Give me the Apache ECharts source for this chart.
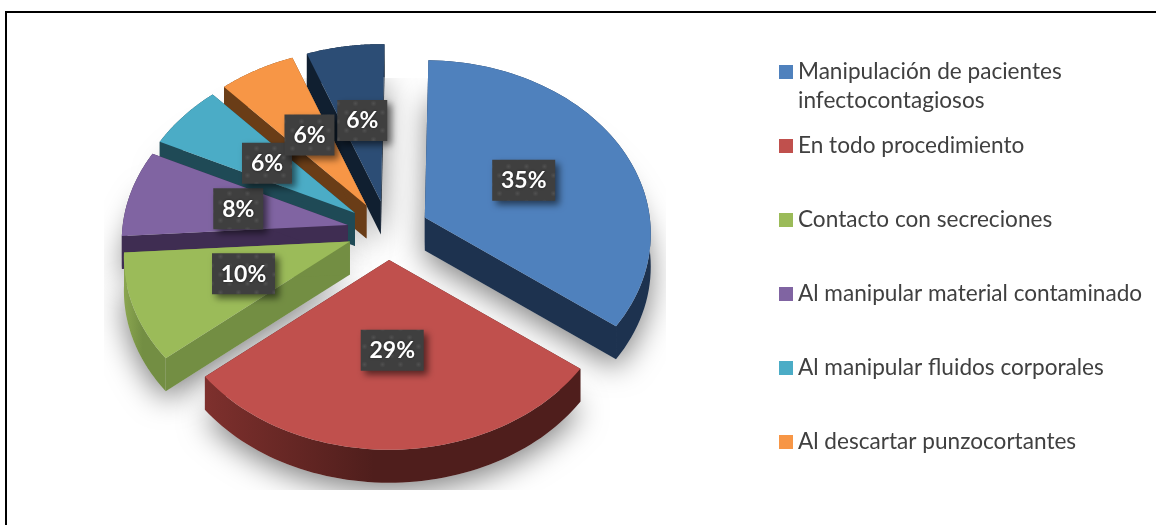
<!DOCTYPE html>
<html>
<head>
<meta charset="utf-8">
<style>html,body{margin:0;padding:0;background:#fff}#c{width:1156px;height:525px}</style>
<script src="https://cdn.jsdelivr.net/npm/echarts@6/dist/echarts.min.js"></script>
</head>
<body>
<div id="c"></div>
<script>
const categories = ['Manipulación de pacientes\ninfectocontagiosos','En todo procedimiento','Contacto con secreciones','Al manipular material contaminado','Al manipular fluidos corporales','Al descartar punzocortantes','Otros'];
const values = [34.9,28.8,10.0,8.1,6.1,6.0,6.1];
const topColors = ['#4F81BD','#C0504D','#9BBB59','#8064A2','#4BACC6','#F79646','#2C4D75'];
const sideColors = ['#1D324F','#4F1E1C','#738E43','#3F2D52','#1F4A56','#6A3D17','#101F30'];
const arcLightColors = ['#1D324F','#7E302D','#8BA650','#3F2D52','#1F4A56','#6A3D17','#101F30'];
const paintOrder = [6,5,4,3,2,0,1];

const geo = {cx:388, cy:230.5, rx:225, ry:172, ex:41, ey:29.5, persp:0.0936, depth:33, start:1, labelAt:0.5, steps:64};
const total = values.reduce((a,b)=>a+b,0);
const starts = []; values.reduce((acc,v,i)=>{starts[i]=acc; return acc+v;},0);
const deg = v => v/total*360;
const rad = d => d*Math.PI/180;

function project(i,theta,r,drop){
  const mid = rad(geo.start+deg(starts[i])+deg(values[i])/2);
  const t = rad(theta), u = Math.sin(t)*r, v = -Math.cos(t)*r, s = 1/(1-v*geo.persp);
  return [geo.cx+geo.ex*Math.sin(mid)+geo.rx*u*s, geo.cy-geo.ey*Math.cos(mid)+geo.ry*v*s+drop];
}
function arc(i,drop,rev){
  const a0 = geo.start+deg(starts[i]), a1 = a0+deg(values[i]), pts=[];
  for(let k=0;k<=geo.steps;k++){pts.push(project(i,a0+(a1-a0)*k/geo.steps,1,drop));}
  return rev?pts.reverse():pts;
}
function poly(points,fill,extra){
  return Object.assign({type:'polygon',shape:{points},style:{fill}},extra||{});
}
function sliceItem(i){
  return function(){
    const a0 = geo.start+deg(starts[i]), a1 = a0+deg(values[i]), d=geo.depth;
    const tipT=project(i,0,0,0), tipB=project(i,0,0,d);
    const aT=project(i,a0,1,0), aB=project(i,a0,1,d), bT=project(i,a1,1,0), bB=project(i,a1,1,d);
    const arcFill={type:'linear',x:0,y:0,x2:1,y2:0,colorStops:[{offset:0,color:arcLightColors[i]},{offset:0.45,color:sideColors[i]},{offset:1,color:sideColors[i]}]};
    return {type:'group',children:[
      poly([tipT,tipB,aB,aT],sideColors[i]),
      poly([tipT,tipB,bB,bT],sideColors[i]),
      poly(arc(i,0,false).concat(arc(i,d,true)),arcFill),
      poly([tipT].concat(arc(i,0,false)),topColors[i])
    ]};
  };
}
function shadowItem(params){
  const i=params.dataIndex;
  return {type:'group',
    clipPath:{type:'rect',shape:{x:104,y:78,width:562,height:412}},
    children:[poly([project(i,0,0,geo.depth)].concat(arc(i,geo.depth,false)),'#cfcfcf',
      {style:{fill:'#cfcfcf',shadowBlur:30,shadowColor:'rgba(0,0,0,0.5)',shadowOffsetY:8}})]};
}
const patternCanvas = document.createElement('canvas');
patternCanvas.width=patternCanvas.height=18;
(function(){
  const g=patternCanvas.getContext('2d');
  g.fillStyle='#3F3F3F';g.fillRect(0,0,18,18);
  [[4.5,4.5],[13.5,13.5]].forEach(p=>{
    const r=g.createRadialGradient(p[0],p[1],0,p[0],p[1],3.2);
    r.addColorStop(0,'#505050');r.addColorStop(1,'#3F3F3F');
    g.fillStyle=r;g.beginPath();g.arc(p[0],p[1],3.2,0,7);g.fill();
  });
})();
function labelItem(params){
  const i=params.dataIndex, val=values[i];
  const a=geo.start+deg(starts[i])+deg(val)/2, c=project(i,a,geo.labelAt,0);
  const pct=Math.round(val), txt=pct+'%', w=pct>=10?63:50, h=41;
  return {type:'group',children:[
    {type:'rect',shape:{x:c[0]-w/2,y:c[1]-h/2,width:w,height:h},
      style:{fill:{image:patternCanvas,repeat:'repeat'},shadowBlur:7,shadowOffsetX:4,shadowOffsetY:4,shadowColor:'rgba(0,0,0,0.55)'}},
    {type:'text',style:{x:c[0],y:c[1]+0.5,text:txt,fill:'#fff',align:'center',verticalAlign:'middle',
      font:'bold 23px Lato',textShadowBlur:3,textShadowColor:'rgba(0,0,0,0.5)'}}
  ]};
}
const series=[{type:'custom',name:'sombra',coordinateSystem:'none',silent:true,z:1,data:values.map(v=>[v]),renderItem:shadowItem,animation:false}];
paintOrder.forEach((i,n)=>{
  series.push({type:'custom',name:categories[i],coordinateSystem:'none',silent:true,z:2+n,
    itemStyle:{color:topColors[i]},data:[[values[i]]],renderItem:sliceItem(i),animation:false});
});
series.push({type:'custom',name:'etiquetas',coordinateSystem:'none',silent:true,z:20,data:values.map(v=>[v]),renderItem:labelItem,animation:false});

const legendBase={orient:'vertical',left:779,icon:'rect',itemWidth:14,itemHeight:14,itemGap:45,padding:0,selectedMode:false,
  textStyle:{fontFamily:'Lato',fontSize:22.6,color:'#404040',lineHeight:29}};
const option={
  animation:false,
  backgroundColor:'#fff',
  legend:[
    Object.assign({},legendBase,{top:28.5,data:categories.slice(0,1),formatter:n=>'\n'+n}),
    Object.assign({},legendBase,{top:131.5,data:categories.slice(1,6)})
  ],
  graphic:[
    {type:'line',shape:{x1:6,y1:12,x2:1156,y2:12},style:{stroke:'#000',lineWidth:2}},
    {type:'line',shape:{x1:6,y1:11,x2:6,y2:525},style:{stroke:'#000',lineWidth:2}}
  ],
  series
};
const chart=echarts.init(document.getElementById('c'),null,{renderer:'canvas'});
chart.setOption(option);
</script>
</body>
</html>
